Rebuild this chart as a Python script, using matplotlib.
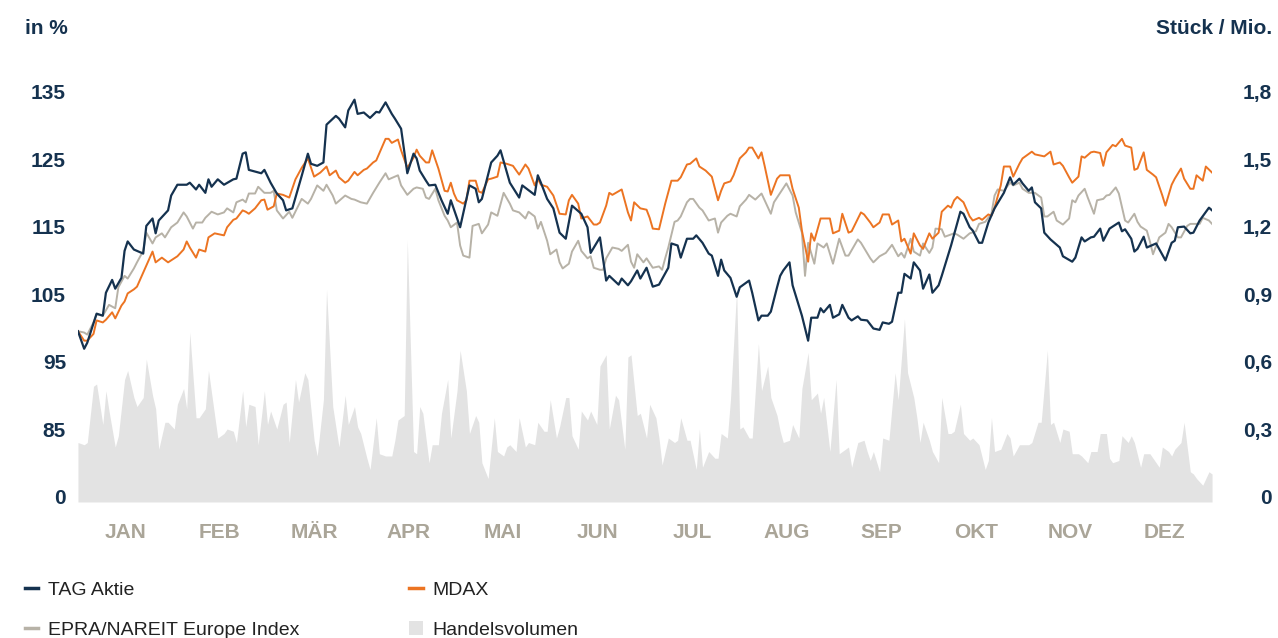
import matplotlib
matplotlib.use("Agg")
from matplotlib import pyplot as plt
from matplotlib.lines import Line2D
from matplotlib.patches import Patch

plt.rcParams["font.family"] = ["Liberation Sans Narrow", "Liberation Sans", "DejaVu Sans"]

# Kursverlauf (Tag im Jahr, indexiert in %)
tag_day = [0, 2, 3, 6, 8, 9, 11, 12, 14, 15, 16, 18, 19, 21, 22, 24, 25, 26, 29, 30, 32, 35, 36, 38, 39,
           41, 42, 43, 45, 47, 50, 51, 53, 54, 55, 59, 60, 62, 64, 66, 67, 69, 72, 74, 75, 77, 79, 80,
           83, 84, 86, 87, 89, 90, 92, 94, 96, 97, 99, 101, 102, 104, 106, 108, 109, 110, 112, 113,
           115, 117, 119, 120, 123, 126, 128, 129, 130, 133, 135, 136, 139, 142, 143, 147, 148, 149,
           151, 153, 155, 157, 159, 162, 164, 165, 168, 170, 171, 174, 175, 177, 178, 180, 181, 183,
           185, 187, 190, 191, 193, 194, 196, 198, 199, 201, 203, 204, 206, 207, 208, 210, 212, 213,
           216, 217, 219, 220, 222, 223, 225, 226, 227, 229, 230, 232, 233, 235, 236, 238, 239, 240,
           242, 243, 245, 246, 248, 249, 251, 252, 254, 256, 258, 259, 261, 262, 264, 265, 266, 268,
           269, 271, 272, 274, 275, 277, 278, 281, 284, 285, 287, 288, 290, 291, 293, 295, 298, 300,
           301, 303, 304, 306, 307, 308, 310, 311, 313, 316, 317, 320, 321, 323, 324, 326, 327, 329,
           330, 332, 335, 336, 337, 339, 340, 341, 343, 344, 347, 350, 352, 353, 354, 356, 358, 359,
           361, 364, 365]
tag_pct = [99.5, 96.9, 97.8, 102.1, 101.8, 105.2, 107.1, 105.8, 107.4, 111.4, 112.8, 111.6, 111.4,
           111.0, 115.1, 116.2, 114.0, 115.9, 117.4, 119.6, 121.2, 121.2, 121.5, 120.5, 121.2, 120.0,
           122.0, 120.9, 122.0, 121.2, 122.0, 122.1, 125.8, 126.0, 123.4, 122.9, 123.4, 121.5, 119.9,
           118.9, 117.4, 117.7, 122.5, 125.8, 124.3, 124.0, 124.5, 130.1, 131.4, 131.0, 129.7, 132.2,
           133.8, 131.7, 131.9, 131.1, 132.0, 131.9, 133.4, 131.7, 131.0, 129.5, 122.9, 125.8, 125.1,
           123.3, 121.8, 121.1, 121.2, 118.9, 116.9, 118.9, 114.9, 121.1, 120.6, 118.6, 119.1, 124.5,
           125.5, 126.3, 121.5, 119.3, 121.1, 119.7, 122.6, 121.5, 119.1, 117.7, 114.1, 113.2, 118.1,
           116.9, 114.9, 111.1, 113.4, 107.0, 107.7, 106.4, 107.3, 106.3, 106.9, 108.5, 107.3, 108.9,
           106.1, 106.4, 108.9, 112.5, 112.2, 110.4, 113.2, 113.2, 113.7, 112.6, 111.0, 110.7, 107.7,
           110.1, 108.5, 107.4, 104.6, 106.0, 107.0, 105.2, 101.1, 101.8, 101.8, 102.4, 106.0, 107.7,
           108.5, 109.7, 106.3, 103.3, 101.8, 98.1, 101.5, 101.5, 102.9, 102.3, 103.4, 101.5, 102.0,
           103.4, 101.5, 101.1, 101.7, 101.2, 101.1, 99.9, 99.7, 100.8, 100.6, 100.9, 105.2, 105.2,
           108.0, 107.3, 109.7, 108.5, 105.8, 107.9, 105.2, 106.3, 107.7, 112.2, 117.2, 116.9, 114.9,
           114.4, 112.6, 112.6, 115.6, 117.7, 120.0, 122.3, 121.2, 122.1, 121.4, 120.3, 120.8, 118.6,
           117.7, 114.1, 113.1, 111.9, 110.6, 109.8, 110.4, 113.4, 112.8, 113.4, 113.5, 114.7, 112.9,
           114.7, 115.6, 114.3, 114.6, 113.2, 111.3, 111.7, 113.5, 111.9, 112.5, 110.0, 112.6, 112.9,
           114.9, 115.0, 114.0, 114.1, 115.9, 117.8, 117.4]

mdax_day = [0, 2, 3, 5, 6, 8, 9, 11, 12, 14, 15, 16, 18, 19, 22, 24, 25, 27, 29, 32, 34, 35, 36, 38,
            39, 41, 42, 44, 47, 48, 50, 51, 53, 54, 55, 57, 59, 60, 61, 63, 64, 66, 68, 70, 72, 74,
            76, 78, 80, 81, 83, 84, 86, 87, 89, 90, 92, 93, 95, 96, 99, 100, 101, 103, 104, 106, 108,
            109, 110, 112, 113, 114, 116, 118, 119, 120, 121, 122, 124, 125, 126, 128, 129, 130, 132,
            133, 135, 136, 138, 140, 142, 144, 145, 147, 148, 149, 151, 153, 155, 157, 158, 159, 161,
            162, 164, 166, 167, 168, 170, 171, 172, 175, 177, 178, 179, 181, 183, 184, 185, 187, 189,
            191, 193, 194, 196, 197, 199, 200, 202, 204, 206, 207, 208, 210, 211, 213, 215, 216, 217,
            219, 220, 221, 223, 225, 226, 229, 230, 232, 233, 235, 236, 237, 239, 242, 243, 245, 246,
            248, 249, 252, 253, 255, 256, 258, 259, 261, 262, 264, 265, 266, 268, 269, 271, 272, 274,
            275, 277, 278, 280, 281, 282, 283, 285, 287, 288, 290, 291, 293, 294, 295, 297, 298, 300,
            301, 303, 304, 307, 308, 310, 311, 313, 314, 316, 317, 319, 320, 322, 323, 324, 326, 327,
            329, 330, 331, 333, 334, 336, 337, 339, 340, 341, 343, 344, 346, 347, 349, 350, 352, 353,
            355, 356, 358, 359, 360, 362, 363, 365]
mdax_pct = [99.5, 98.1, 98.1, 99.1, 101.1, 100.8, 101.2, 102.3, 101.4, 103.3, 103.9, 105.1, 105.7,
            106.1, 109.2, 111.3, 109.7, 110.4, 109.7, 110.6, 111.6, 112.8, 111.9, 110.4, 111.6, 111.3,
            113.4, 114.0, 113.7, 114.9, 116.0, 116.2, 117.4, 117.2, 116.9, 117.7, 118.9, 119.0, 117.5,
            118.0, 119.9, 119.7, 119.3, 122.0, 123.7, 125.1, 122.4, 123.0, 123.9, 122.6, 123.3, 122.3,
            121.5, 121.8, 123.1, 122.6, 123.4, 123.6, 124.5, 124.8, 128.0, 128.0, 127.4, 127.9, 126.3,
            123.7, 125.2, 126.4, 125.5, 124.5, 124.5, 126.3, 123.6, 120.3, 120.2, 121.5, 119.9, 118.9,
            118.4, 118.9, 121.8, 121.8, 120.2, 120.0, 122.0, 122.1, 122.4, 124.5, 124.3, 124.0, 122.7,
            124.2, 123.6, 121.1, 122.1, 121.2, 120.9, 119.6, 116.9, 116.8, 118.9, 119.7, 118.4, 116.2,
            116.5, 115.3, 115.3, 115.6, 118.1, 120.0, 119.7, 120.5, 117.1, 115.9, 118.6, 117.7, 117.5,
            116.3, 114.7, 114.6, 118.4, 121.8, 121.8, 122.3, 124.2, 124.3, 125.1, 123.9, 123.3, 122.4,
            118.9, 120.3, 121.4, 121.7, 122.6, 125.1, 126.0, 126.7, 126.7, 125.1, 126.0, 124.0, 119.7,
            122.1, 122.6, 122.6, 120.6, 117.8, 114.4, 109.8, 114.0, 112.9, 116.2, 116.2, 114.0, 114.4,
            116.9, 114.1, 114.3, 117.1, 116.8, 115.6, 114.9, 115.6, 116.8, 116.8, 115.3, 115.9, 112.8,
            113.2, 111.0, 114.0, 112.2, 111.7, 114.0, 113.2, 114.1, 117.2, 118.1, 117.8, 118.9, 119.4,
            118.6, 116.5, 115.9, 116.3, 116.0, 116.8, 116.6, 117.8, 121.1, 123.9, 123.9, 122.4, 124.3,
            125.1, 126.1, 125.7, 125.5, 125.4, 126.1, 124.2, 124.5, 124.0, 122.3, 121.5, 122.4, 125.4,
            125.2, 126.0, 126.1, 125.9, 124.0, 126.0, 127.1, 126.9, 128.0, 127.0, 126.7, 123.4, 123.6,
            126.0, 123.4, 122.7, 122.3, 119.6, 118.1, 121.2, 122.1, 123.6, 122.1, 120.6, 120.6, 122.6,
            121.8, 123.9, 123.0]

epra_day = [0, 2, 3, 5, 6, 8, 10, 12, 13, 15, 16, 18, 19, 21, 22, 24, 25, 27, 28, 30, 32, 34, 35, 37,
            38, 40, 41, 43, 45, 47, 48, 50, 51, 53, 54, 55, 57, 58, 60, 62, 63, 64, 66, 68, 69, 72,
            74, 75, 77, 79, 80, 82, 83, 86, 88, 89, 91, 93, 95, 97, 99, 100, 103, 104, 106, 108, 109,
            111, 112, 113, 115, 116, 118, 119, 120, 122, 123, 124, 126, 127, 129, 130, 132, 133, 135,
            137, 139, 140, 142, 144, 145, 147, 148, 149, 151, 152, 154, 155, 156, 158, 159, 161, 162,
            164, 165, 166, 168, 169, 170, 172, 174, 175, 177, 178, 179, 180, 182, 183, 185, 187, 188,
            189, 190, 192, 193, 194, 196, 197, 198, 200, 201, 203, 205, 206, 207, 209, 210, 212, 213,
            215, 216, 218, 220, 223, 224, 226, 228, 230, 231, 233, 234, 235, 237, 238, 240, 241, 243,
            245, 247, 248, 251, 252, 255, 256, 258, 260, 262, 264, 265, 266, 268, 269, 271, 272, 274,
            275, 276, 278, 279, 282, 283, 285, 287, 289, 290, 292, 294, 295, 296, 298, 300, 301, 303,
            304, 306, 308, 310, 311, 312, 314, 315, 317, 319, 320, 321, 322, 324, 325, 327, 328, 330,
            331, 332, 334, 335, 337, 338, 340, 341, 342, 344, 345, 346, 348, 350, 351, 352, 354, 355,
            357, 358, 361, 362, 364, 365]
epra_pct = [99.5, 99.3, 99.0, 100.8, 102.0, 101.8, 103.4, 102.9, 106.0, 107.7, 107.3, 108.8, 109.7,
            111.4, 114.1, 112.5, 113.4, 114.0, 113.4, 114.9, 115.6, 117.1, 116.5, 114.7, 115.6, 115.6,
            116.3, 117.2, 116.8, 117.1, 117.7, 117.1, 118.6, 119.0, 118.6, 119.9, 119.9, 120.9, 120.0,
            120.0, 120.3, 117.4, 116.2, 117.2, 116.3, 119.1, 118.4, 119.1, 121.1, 120.3, 121.2, 119.6,
            118.4, 119.6, 119.1, 119.0, 118.6, 118.4, 120.0, 121.5, 122.9, 122.0, 122.6, 121.1, 119.7,
            120.6, 120.8, 120.6, 119.3, 119.1, 120.6, 118.9, 116.6, 115.9, 114.9, 115.6, 112.2, 110.7,
            110.4, 115.1, 115.4, 114.0, 115.3, 117.1, 116.6, 120.0, 118.4, 117.4, 117.1, 116.2, 117.2,
            116.5, 114.7, 115.7, 112.9, 110.9, 111.6, 109.7, 108.8, 109.5, 111.3, 112.9, 111.4, 110.3,
            110.6, 108.9, 108.6, 108.6, 110.3, 111.9, 111.7, 111.4, 112.3, 109.8, 108.9, 110.9, 109.7,
            110.3, 108.9, 109.1, 108.6, 110.3, 111.9, 115.7, 115.9, 116.5, 118.6, 119.1, 119.1, 117.8,
            117.4, 115.9, 116.2, 114.1, 115.6, 116.6, 116.9, 116.5, 118.0, 119.0, 119.7, 119.0, 119.9,
            116.9, 118.6, 120.0, 121.4, 119.6, 117.1, 114.1, 107.7, 112.6, 109.5, 112.5, 111.9, 112.5,
            109.5, 113.2, 110.7, 110.7, 113.1, 112.6, 110.3, 109.7, 110.6, 111.1, 112.3, 110.6, 111.1,
            110.4, 113.2, 111.3, 110.7, 112.5, 111.1, 111.9, 114.7, 114.6, 113.5, 114.0, 113.8, 113.2,
            114.0, 114.3, 115.4, 115.7, 116.9, 119.6, 120.5, 120.3, 121.5, 121.1, 121.5, 120.6, 120.0,
            120.0, 119.3, 116.5, 116.5, 117.2, 115.9, 115.3, 116.2, 118.9, 118.6, 119.6, 120.6, 119.3,
            116.9, 118.9, 119.1, 119.6, 119.7, 120.8, 119.9, 115.9, 115.6, 116.9, 115.7, 115.0, 114.4,
            112.8, 110.9, 113.4, 114.1, 115.4, 114.9, 113.4, 113.4, 115.1, 115.4, 115.4, 116.3, 115.9,
            115.4]

# Handelsvolumen (Stück / Mio.)
vol_day = [0, 2, 3, 5, 6, 8, 9, 10, 12, 13, 15, 16, 18, 19, 21, 22, 24, 25, 26, 28, 29, 31, 32, 34,
           35, 36, 38, 39, 41, 42, 43, 45, 47, 48, 50, 51, 53, 54, 55, 57, 58, 60, 61, 62, 64, 66,
           67, 68, 70, 71, 73, 74, 76, 77, 79, 80, 82, 83, 84, 86, 87, 89, 90, 91, 93, 94, 96, 97,
           99, 101, 102, 103, 105, 106, 108, 109, 110, 111, 113, 114, 116, 117, 119, 120, 122, 123,
           125, 126, 128, 129, 130, 132, 134, 135, 137, 138, 139, 141, 142, 144, 145, 147, 148, 150,
           151, 152, 154, 155, 157, 158, 159, 161, 162, 164, 165, 167, 168, 170, 171, 173, 174, 176,
           177, 178, 180, 181, 183, 184, 186, 187, 188, 190, 192, 193, 194, 196, 197, 199, 200, 201,
           203, 205, 206, 207, 209, 210, 212, 213, 214, 216, 217, 219, 220, 222, 223, 225, 226, 227,
           229, 230, 232, 233, 235, 236, 238, 239, 240, 242, 244, 245, 246, 248, 249, 251, 253, 254,
           255, 256, 258, 259, 261, 263, 264, 266, 267, 269, 270, 271, 272, 274, 275, 277, 278, 280,
           281, 282, 284, 285, 287, 288, 290, 292, 293, 294, 295, 297, 299, 300, 301, 303, 306, 307,
           309, 310, 312, 313, 314, 316, 317, 319, 320, 322, 323, 325, 326, 328, 329, 331, 332, 333,
           335, 336, 338, 339, 340, 342, 343, 345, 346, 348, 349, 351, 352, 353, 355, 356, 358, 359,
           360, 362, 364, 365]
vol_mio = [0.24, 0.23, 0.24, 0.49, 0.50, 0.32, 0.47, 0.38, 0.22, 0.27, 0.52, 0.56, 0.44, 0.40, 0.44,
           0.61, 0.45, 0.39, 0.21, 0.33, 0.33, 0.30, 0.41, 0.48, 0.39, 0.73, 0.35, 0.35, 0.39, 0.56,
           0.46, 0.26, 0.28, 0.30, 0.29, 0.24, 0.47, 0.31, 0.41, 0.40, 0.23, 0.47, 0.32, 0.38, 0.30,
           0.41, 0.42, 0.24, 0.52, 0.42, 0.55, 0.52, 0.25, 0.18, 0.43, 0.92, 0.40, 0.31, 0.22, 0.45,
           0.32, 0.40, 0.31, 0.28, 0.17, 0.12, 0.35, 0.19, 0.18, 0.18, 0.25, 0.34, 0.36, 1.14, 0.20,
           0.19, 0.40, 0.37, 0.15, 0.23, 0.23, 0.37, 0.52, 0.26, 0.47, 0.65, 0.47, 0.28, 0.36, 0.33,
           0.15, 0.08, 0.35, 0.20, 0.18, 0.22, 0.23, 0.20, 0.35, 0.22, 0.24, 0.23, 0.33, 0.29, 0.29,
           0.43, 0.26, 0.31, 0.44, 0.44, 0.27, 0.21, 0.38, 0.34, 0.38, 0.32, 0.58, 0.63, 0.30, 0.45,
           0.43, 0.21, 0.62, 0.63, 0.36, 0.37, 0.26, 0.41, 0.35, 0.26, 0.14, 0.26, 0.24, 0.25, 0.35,
           0.25, 0.25, 0.12, 0.30, 0.13, 0.20, 0.17, 0.17, 0.28, 0.26, 0.43, 0.92, 0.30, 0.31, 0.26,
           0.26, 0.68, 0.47, 0.58, 0.44, 0.36, 0.29, 0.24, 0.25, 0.32, 0.26, 0.48, 0.64, 0.43, 0.46,
           0.37, 0.44, 0.20, 0.52, 0.19, 0.20, 0.22, 0.13, 0.24, 0.25, 0.20, 0.16, 0.20, 0.11, 0.26,
           0.25, 0.55, 0.43, 0.79, 0.55, 0.44, 0.35, 0.24, 0.33, 0.25, 0.20, 0.15, 0.44, 0.28, 0.28,
           0.29, 0.41, 0.28, 0.25, 0.26, 0.23, 0.12, 0.16, 0.35, 0.20, 0.21, 0.28, 0.26, 0.18, 0.23,
           0.23, 0.24, 0.33, 0.33, 0.65, 0.32, 0.33, 0.24, 0.30, 0.29, 0.19, 0.19, 0.18, 0.15, 0.20,
           0.20, 0.28, 0.28, 0.17, 0.15, 0.16, 0.27, 0.24, 0.27, 0.24, 0.13, 0.19, 0.19, 0.17, 0.13,
           0.22, 0.20, 0.18, 0.21, 0.24, 0.33, 0.11, 0.10, 0.08, 0.05, 0.11, 0.10]

monate = ["JAN", "FEB", "MÄR", "APR", "MAI", "JUN", "JUL", "AUG", "SEP", "OKT", "NOV", "DEZ"]
pct_ticks = [75, 85, 95, 105, 115, 125, 135]
pct_labels = ["0", "85", "95", "105", "115", "125", "135"]
vol_ticks = [0, 0.3, 0.6, 0.9, 1.2, 1.5, 1.8]
vol_labels = ["0", "0,3", "0,6", "0,9", "1,2", "1,5", "1,8"]

NAVY = "#15324f"
ORANGE = "#ec7422"
GREY = "#b7b2a7"
FILL = "#e3e3e3"
MONTH = "#aaa598"

fig = plt.figure(figsize=(12.78, 6.38), dpi=100)
ax = fig.add_axes([0.0610, 0.2132, 0.8874, 0.6771])
ax2 = ax.twinx()

# Handelsvolumen im Hintergrund
vol_bottom = -0.0244
ax2.fill_between(vol_day, vol_mio, vol_bottom, color=FILL, linewidth=0)
ax2.set_ylim(vol_bottom, 1.896)
ax2.set_yticks(vol_ticks, vol_labels)

ax.set_zorder(ax2.get_zorder() + 1)
ax.patch.set_visible(False)
ax.plot(epra_day, epra_pct, color=GREY, lw=1.4)
ax.plot(mdax_day, mdax_pct, color=ORANGE, lw=1.4)
ax.plot(tag_day, tag_pct, color=NAVY, lw=1.6)
ax.set_xlim(0, 365)
ax.set_ylim(74.2, 138.2)
ax.set_yticks(pct_ticks, pct_labels)
ax.set_xticks([(i + 0.5) * 365 / 12 for i in range(12)], monate)

for a in (ax, ax2):
    for s in a.spines.values():
        s.set_visible(False)
ax.tick_params(axis="y", length=0, pad=8.6, labelsize=15, labelcolor=NAVY)
ax.tick_params(axis="x", length=0, pad=15, labelsize=15, labelcolor=MONTH)
ax2.tick_params(axis="y", length=0, pad=43, labelsize=15, labelcolor=NAVY)
for lbl in ax.get_yticklabels() + ax2.get_yticklabels() + ax.get_xticklabels():
    lbl.set_fontweight("bold")
for lbl in ax2.get_yticklabels():
    lbl.set_horizontalalignment("right")

fig.text(25 / 1278, 1 - 28 / 638, "in %", fontsize=15, fontweight="bold", color=NAVY,
         ha="left", va="center")
fig.text(1272 / 1278, 1 - 28 / 638, "Stück / Mio.", fontsize=15, fontweight="bold", color=NAVY,
         ha="right", va="center")

handles = [Line2D([], [], color=NAVY, lw=2.5),
           Line2D([], [], color=GREY, lw=2.5),
           Line2D([], [], color=ORANGE, lw=2.5),
           Patch(facecolor=FILL, edgecolor="none")]
labels = ["TAG Aktie", "EPRA/NAREIT Europe Index", "MDAX", "Handelsvolumen"]
fig.legend(handles, labels, ncol=2, loc="upper left", bbox_to_anchor=(7 / 1278, 1 - 564 / 638),
           frameon=False, fontsize=14, handlelength=0.7, handletextpad=0.5,
           columnspacing=5.65, labelspacing=1.15, labelcolor="#222222")

fig.savefig("out.png", dpi=100)
